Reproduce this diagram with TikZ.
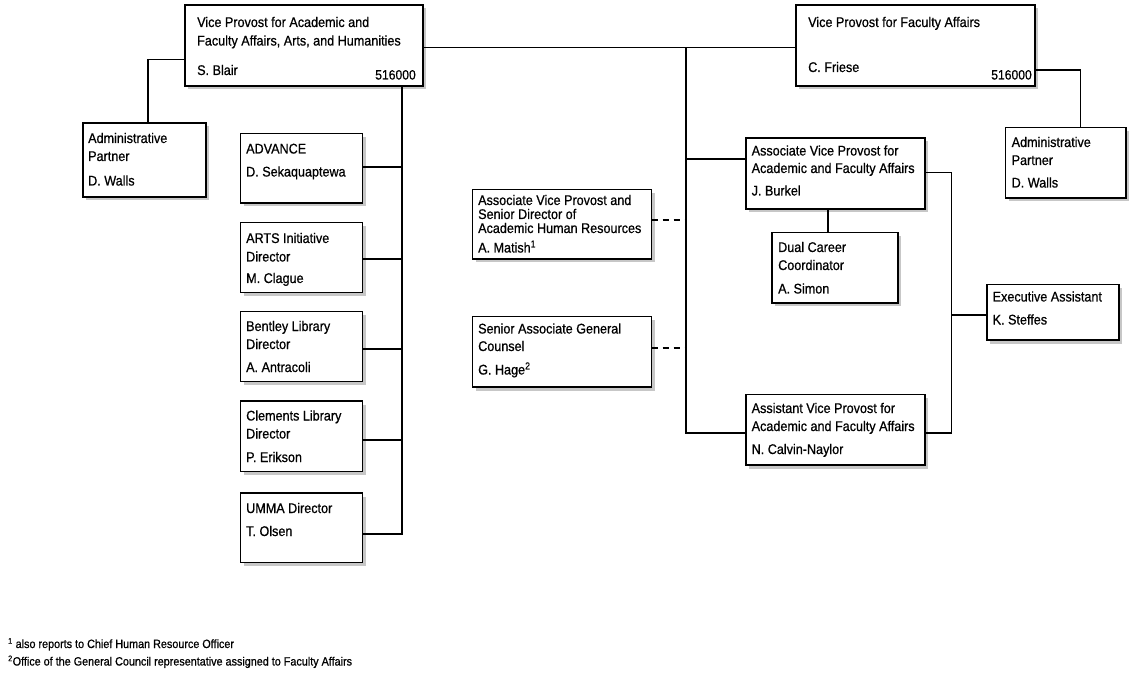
\documentclass[tikz,border=0pt]{standalone}
\usepackage{fontspec}
\setmainfont[FakeStretch=0.9, FakeBold=0.7]{Liberation Sans}
\usetikzlibrary{shadows}
\newcommand{\orgbox}[5]{\node[obox, minimum width={(#4)-(#2)}, minimum height={(#5)-(#3)}] (#1) at (#2,#3) {};}
\newcommand{\otext}[4]{\node[otxt] (#1) at (#2,#3) {#4};}
\begin{document}
\begin{tikzpicture}[x=1pt,y=-1pt,
  obox/.style={draw=black, line width=1.2pt, fill=white, anchor=north west, inner sep=0pt, outer sep=0pt,
    drop shadow={shadow xshift=3pt, shadow yshift=-3.5pt, fill=black, opacity=0.22}},
  otxt/.style={anchor=base west, inner sep=0pt, font=\fontsize{14pt}{16pt}\selectfont},
  onum/.style={anchor=base east, inner sep=0pt, font=\fontsize{13.5pt}{15pt}\selectfont},
  fn/.style={anchor=base west, inner sep=0pt, font=\fontsize{12pt}{14pt}\selectfont},
  conn/.style={draw=black, line width=1.3pt},
  dconn/.style={conn, dash pattern=on 6pt off 5pt}]
\fill[white] (0,0) rectangle (1136,679);
\useasboundingbox (0,0) rectangle (1136,679);

% ---- boxes ----
\orgbox{blair}{185}{5}{423}{86}
\orgbox{friese}{796}{5}{1035}{86}
\orgbox{adminL}{83}{123}{206}{197}
\orgbox{advance}{240.5}{133.5}{362.5}{203}
\orgbox{arts}{240.5}{222.5}{362.5}{292.5}
\orgbox{bentley}{240.5}{311.5}{362.5}{381.5}
\orgbox{clements}{240.5}{401}{362.5}{471.5}
\orgbox{umma}{240.5}{493}{362.5}{562.5}
\orgbox{matish}{472.5}{189.5}{651.5}{259}
\orgbox{hage}{472.5}{316.5}{651.5}{387}
\orgbox{burkel}{746}{138}{925}{209}
\orgbox{dual}{772}{232.5}{898}{303}
\orgbox{calvin}{746}{394.5}{925}{465}
\orgbox{exec}{987}{284.5}{1119}{340}
\orgbox{adminR}{1005.5}{127.5}{1126}{198}

% ---- junctions ----
\coordinate (jL) at (148,59.5);
\coordinate (jR) at (1080.5,70);
\coordinate (jTop) at (686,47.5);
\coordinate (jB) at (686,159);
\coordinate (jM) at (686,220);
\coordinate (jH) at (686,348);
\coordinate (jMid) at (686,433);
\coordinate (jA) at (402,167);
\coordinate (jArts) at (402,259);
\coordinate (jBen) at (402,349);
\coordinate (jCle) at (402,440);
\coordinate (jV) at (402,534);
\coordinate (jE1) at (951.5,172.5);
\coordinate (jE) at (951.5,315);
\coordinate (jE2) at (951.5,433);
\coordinate (jD) at (828,0);

% ---- connectors ----
\draw[conn] (blair.west |- jL) -- (jL) -- (jL |- adminL.north);
\draw[conn] (friese.east |- jR) -- (jR) -- (jR |- adminR.north);
\draw[conn] (blair.east |- jTop) -- (friese.west |- jTop);
\draw[conn] (jTop) -- (jMid) -- (calvin.west |- jMid);
\draw[conn] (jB) -- (burkel.west |- jB);
\draw[dconn] (matish.east |- jM) -- (jM);
\draw[dconn] (hage.east |- jH) -- (jH);
\draw[conn] (blair.south -| jV) -- (jV) -- (umma.east |- jV);
\draw[conn] (advance.east |- jA) -- (jA);
\draw[conn] (arts.east |- jArts) -- (jArts);
\draw[conn] (bentley.east |- jBen) -- (jBen);
\draw[conn] (clements.east |- jCle) -- (jCle);
\draw[conn] (burkel.east |- jE1) -- (jE1) -- (jE2) -- (calvin.east |- jE2);
\draw[conn] (jE) -- (exec.west |- jE);
\draw[conn] (burkel.south -| jD) -- (dual.north -| jD);

% ---- texts ----
\otext{blair1}{197}{27}{Vice Provost for Academic and}
\otext{blair2}{197}{45.5}{Faculty Affairs, Arts, and Humanities}
\otext{blairn}{197}{75}{S. Blair}
\node[onum] (blairc) at (416,79.5) {516000};

\otext{friese1}{808}{27}{Vice Provost for Faculty Affairs}
\otext{friesen}{808}{72}{C. Friese}
\node[onum] (friesec) at (1032,79.5) {516000};

\otext{adminL1}{88}{143}{Administrative}
\otext{adminL2}{88}{161}{Partner}
\otext{adminLn}{88}{185.5}{D. Walls}

\otext{advance1}{246}{153.5}{ADVANCE}
\otext{advancen}{246}{176.5}{D. Sekaquaptewa}

\otext{arts1}{246}{243}{ARTS Initiative}
\otext{arts2}{246}{261.5}{Director}
\otext{artsn}{246}{283}{M. Clague}

\otext{bentley1}{246}{331}{Bentley Library}
\otext{bentley2}{246}{349}{Director}
\otext{bentleyn}{246}{372}{A. Antracoli}

\otext{clements1}{246}{420.5}{Clements Library}
\otext{clements2}{246}{438.5}{Director}
\otext{clementsn}{246}{462}{P. Erikson}

\otext{umma1}{246}{513}{UMMA Director}
\otext{umman}{246}{536}{T. Olsen}

\otext{matish1}{478}{205}{Associate Vice Provost and}
\otext{matish2}{478}{219}{Senior Director of}
\otext{matish3}{478}{233}{Academic Human Resources}
\otext{matishn}{478}{252.5}{A. Matish\textsuperscript{1}}

\otext{hage1}{478}{333.5}{Senior Associate General}
\otext{hage2}{478}{351}{Counsel}
\otext{hagen}{478}{374.5}{G. Hage\textsuperscript{2}}

\otext{burkel1}{751.5}{155.5}{Associate Vice Provost for}
\otext{burkel2}{751.5}{173}{Academic and Faculty Affairs}
\otext{burkeln}{751.5}{195.5}{J. Burkel}

\otext{dual1}{778}{252}{Dual Career}
\otext{dual2}{778}{270}{Coordinator}
\otext{dualn}{778}{293.5}{A. Simon}

\otext{calvin1}{751.5}{413}{Assistant Vice Provost for}
\otext{calvin2}{751.5}{431}{Academic and Faculty Affairs}
\otext{calvinn}{751.5}{454}{N. Calvin-Naylor}

\otext{exec1}{992.5}{301.5}{Executive Assistant}
\otext{execn}{992.5}{324.5}{K. Steffes}

\otext{adminR1}{1011.5}{147}{Administrative}
\otext{adminR2}{1011.5}{165}{Partner}
\otext{adminRn}{1011.5}{187.5}{D. Walls}

% ---- footnotes ----
\node[fn] (fn1) at (8,648) {\textsuperscript{1} also reports to Chief Human Resource Officer};
\node[fn] (fn2) at (8,665.5) {\textsuperscript{2}Office of the General Council representative assigned to Faculty Affairs};
\end{tikzpicture}
\end{document}
